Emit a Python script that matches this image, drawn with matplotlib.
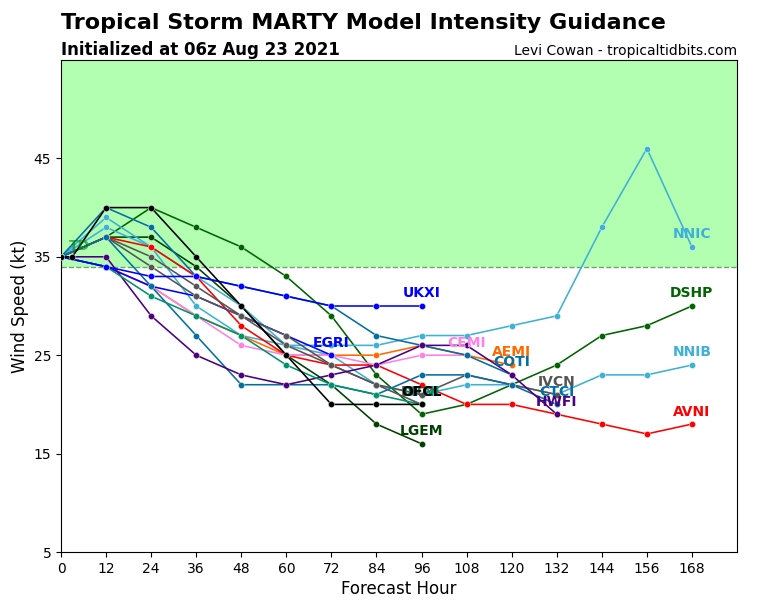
import matplotlib
matplotlib.use("Agg")
import matplotlib.pyplot as plt

hours = [0, 12, 24, 36, 48, 60, 72, 84, 96, 108, 120, 132, 144, 156, 168]
ofcl_hours = [0, 3, 12, 24, 36, 48, 60, 72, 84, 96]

DSHP = [35, 37, 40, 38, 36, 33, 29, 23, 19, 20, 22, 24, 27, 28, 30]
LGEM = [35, 37, 37, 34, 30, 25, 22, 18, 16]
NNIC = [35, 38, 36, 30, 27, 26, 26, 26, 27, 27, 28, 29, 38, 46, 36]
NNIB = [35, 39, 36, 33, 30, 26, 25, 22, 21, 22, 22, 21, 23, 23, 24]
AVNI = [35, 37, 36, 33, 28, 25, 24, 24, 22, 20, 20, 19, 18, 17, 18]
AEMI = [35, 34, 32, 29, 27, 25, 25, 25, 26, 25, 24]
CEMI = [35, 34, 32, 29, 26, 25, 25, 24, 25, 25]
COTI = [35, 40, 38, 33, 32, 31, 30, 27, 26, 25, 23]
CTCI = [35, 37, 32, 27, 22, 22, 22, 21, 23, 23, 22, 20]
HWFI = [35, 35, 29, 25, 23, 22, 23, 24, 26, 26, 23, 19]
IVCN = [35, 37, 35, 32, 29, 27, 24, 22, 21, 23, 22, 21]
DRCL = [35, 37, 34, 31, 29, 26, 24, 22, 20]
GFNI = [35, 34, 31, 29, 27, 24, 22, 21, 20]
EGRI = [35, 34, 32, 31, 29, 27, 25]
UKXI = [35, 34, 33, 33, 32, 31, 30, 30, 30]
OFCL = [35, 35, 40, 40, 35, 30, 25, 20, 20, 20]

x_ticks = list(range(0, 169, 12))
y_ticks = [5, 15, 25, 35, 45]
threshold = 34
status_label = "TD"

series = [
    ("DSHP", DSHP, "#006400"), ("LGEM", LGEM, "#004000"),
    ("NNIC", NNIC, "#3fb0d6"), ("NNIB", NNIB, "#3fb0d6"),
    ("AEMI", AEMI, "#ff6a00"), ("AVNI", AVNI, "#ff0000"),
    ("CEMI", CEMI, "#ff80e6"), ("EGRI", EGRI, "#0000ff"),
    ("IVCN", IVCN, "#555555"), ("DRCL", DRCL, "#555555"),
    ("COTI", COTI, "#056ea0"), ("CTCI", CTCI, "#056ea0"),
    ("HWFI", HWFI, "#4b0082"), ("GFNI", GFNI, "#00936a"),
    ("UKXI", UKXI, "#0000ff"),
]

fig = plt.figure(figsize=(7.68, 6.0), dpi=100)
ax = fig.add_axes([61 / 768, 1 - 552 / 600, 676 / 768, 492 / 600])
ax.set_xlim(0, 180)
ax.set_ylim(5, 55)

ax.axhspan(threshold, 55, color="#00ff00", alpha=0.3, lw=0, zorder=0)
ax.axhline(threshold, color="#66aa66", lw=1, ls="--", zorder=1)

def draw(name, xs, ys, color):
    xs = xs[:len(ys)]
    ax.plot(xs, ys, color=color, lw=1.15, marker="o", ms=4.5, mec="white",
            mew=0.3, zorder=3)
    ax.annotate(name, (xs[-1], ys[-1]), xytext=(0, 4),
                textcoords="offset points", ha="center", va="bottom",
                color=color, fontsize=10, fontweight="bold", zorder=4)

for name, ys, color in series:
    draw(name, hours, ys, color)
draw("OFCL", ofcl_hours, OFCL, "#000000")

ax.text(4.8, 35.4, status_label, color="#008000", alpha=0.6, fontsize=10,
        fontweight="bold", ha="center", va="bottom", zorder=4)

ax.set_xticks(x_ticks)
ax.set_yticks(y_ticks)
ax.tick_params(labelsize=10)
ax.set_xlabel("Forecast Hour", fontsize=12, labelpad=3)
ax.set_ylabel("Wind Speed (kt)", fontsize=12, labelpad=3)

fig.text(61 / 768, 1 - 23 / 600, "Tropical Storm MARTY Model Intensity Guidance",
         fontsize=16, fontweight="bold", va="center", ha="left")
fig.text(61 / 768, 1 - 50 / 600, "Initialized at 06z Aug 23 2021",
         fontsize=12, fontweight="bold", va="center", ha="left")
fig.text(737 / 768, 1 - 50.5 / 600, "Levi Cowan - tropicaltidbits.com",
         fontsize=10, va="center", ha="right")

fig.savefig("out.png", dpi=100)
